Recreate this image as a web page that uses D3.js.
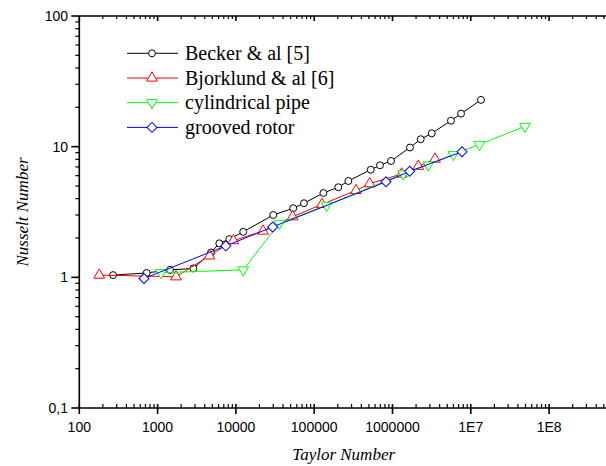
<!DOCTYPE html>
<html>
<head>
<meta charset="utf-8">
<script src="https://cdn.jsdelivr.net/npm/d3@7"></script>
<style>
body { margin: 0; background: #fff; }
.tickText { font-family: "Liberation Sans", Arial, sans-serif; font-size: 14px; fill: #000; }
.axisTitle { font-family: "Liberation Serif", "Times New Roman", serif; font-style: italic; font-size: 17px; fill: #000; }
.legendText { font-family: "Liberation Serif", "Times New Roman", serif; font-size: 20px; fill: #000; }
</style>
</head>
<body>
<div id="chart"></div>
<script>
//------------------------------------------ Data ------------------------------------------

var beckerTa = [270, 725, 1440, 2860, 4810, 6140, 8240, 12400, 30000, 54000, 74000, 131000, 203000,
	273000, 527000, 692000, 957000, 1670000, 2290000, 3170000, 5580000, 7500000, 13500000];
var beckerNu = [1.04, 1.08, 1.14, 1.17, 1.55, 1.82, 1.96, 2.23, 3.0, 3.38, 3.69, 4.42, 4.89,
	5.46, 6.66, 7.2, 7.77, 9.85, 11.4, 12.65, 15.8, 17.9, 22.8];

var bjorklundTa = [180, 1720, 4600, 9300, 22200, 53100, 125800, 342000, 511000, 1310000, 2135000, 3490000];
var bjorklundNu = [1.04, 1.01, 1.46, 1.91, 2.26, 2.91, 3.62, 4.62, 5.21, 6.18, 7.08, 8.04];

var pipeTa = [1105, 12400, 35800, 144000, 1374000, 2865000, 5980000, 12900000, 49200000];
var pipeNu = [1.085, 1.14, 2.59, 3.56, 6.21, 7.24, 8.71, 10.4, 14.3];

var rotorTa = [670, 7430, 29500, 826000, 1658000, 7720000];
var rotorNu = [0.98, 1.74, 2.43, 5.39, 6.48, 9.15];

var seriesNames = ["Becker & al [5]", "Bjorklund & al [6]", "cylindrical pipe", "grooved rotor"];
var seriesColors = ["#000000", "#ff0000", "#00ff00", "#0000ff"];

var xTickValues = [1e2, 1e3, 1e4, 1e5, 1e6, 1e7, 1e8];
var xTickLabels = ["100", "1000", "10000", "100000", "1000000", "1E7", "1E8"];
var yTickValues = [0.1, 1, 10, 100];
var yTickLabels = ["0,1", "1", "10", "100"];

//------------------------------------------ Setup ------------------------------------------

var width = 606, height = 466;
var x0 = 79.3, xDecade = 78.3, xRight = 608;

var svg = d3.select("#chart").append("svg")
	.attr("width", width)
	.attr("height", height);

var x = d3.scaleLog()
	.domain([100, 100 * Math.pow(10, (xRight - x0) / xDecade)])
	.range([x0, xRight]);

var y = d3.scaleLog()
	.domain([0.1, 100])
	.range([408, 16]);

//minor ticks for the log axes
var xMinor = [];
for (var e = 2; e <= 8; e++) {
	for (var m = 2; m <= 9; m++) {
		var v = m * Math.pow(10, e);
		if (v < x.domain()[1]) xMinor.push(v);
	}
}
var yMinor = [];
for (var e = -1; e <= 1; e++) {
	for (var m = 2; m <= 9; m++) yMinor.push(m * Math.pow(10, e));
}

//------------------------------------------ Axes ------------------------------------------

var axisG = svg.append("g").attr("stroke", "#000").attr("stroke-width", 1.6);

//bottom axis line
axisG.append("line")
	.attr("x1", x0).attr("x2", width)
	.attr("y1", y(0.1)).attr("y2", y(0.1));
//top axis line
axisG.append("line")
	.attr("x1", x0).attr("x2", width)
	.attr("y1", y(100)).attr("y2", y(100));
//left axis line
axisG.append("line")
	.attr("x1", x0).attr("x2", x0)
	.attr("y1", y(100)).attr("y2", y(0.1));

//bottom ticks
axisG.selectAll(".xMajor")
	.data(xTickValues)
	.enter().append("line")
	.attr("x1", function(d) { return x(d); })
	.attr("x2", function(d) { return x(d); })
	.attr("y1", y(0.1) - 4)
	.attr("y2", y(0.1) + 6);
axisG.selectAll(".xMinor")
	.data(xMinor)
	.enter().append("line")
	.attr("stroke-width", 1.2)
	.attr("x1", function(d) { return x(d); })
	.attr("x2", function(d) { return x(d); })
	.attr("y1", y(0.1) - 4)
	.attr("y2", y(0.1));
//top ticks
axisG.selectAll(".xTopMajor")
	.data(xTickValues)
	.enter().append("line")
	.attr("x1", function(d) { return x(d); })
	.attr("x2", function(d) { return x(d); })
	.attr("y1", y(100))
	.attr("y2", y(100) + 5);
axisG.selectAll(".xTopMinor")
	.data(xMinor)
	.enter().append("line")
	.attr("stroke-width", 1.2)
	.attr("x1", function(d) { return x(d); })
	.attr("x2", function(d) { return x(d); })
	.attr("y1", y(100))
	.attr("y2", y(100) + 3);
//left ticks
axisG.selectAll(".yMajor")
	.data(yTickValues)
	.enter().append("line")
	.attr("x1", x0 - 8).attr("x2", x0)
	.attr("y1", function(d) { return y(d); })
	.attr("y2", function(d) { return y(d); });
axisG.selectAll(".yMinor")
	.data(yMinor)
	.enter().append("line")
	.attr("stroke-width", 1.2)
	.attr("x1", x0 - 4).attr("x2", x0)
	.attr("y1", function(d) { return y(d); })
	.attr("y2", function(d) { return y(d); });

//tick labels
svg.selectAll(".xLabel")
	.data(xTickValues)
	.enter().append("text")
	.attr("class", "tickText")
	.attr("x", function(d) { return x(d); })
	.attr("y", 431.5)
	.attr("text-anchor", "middle")
	.text(function(d, i) { return xTickLabels[i]; });

svg.selectAll(".yLabel")
	.data(yTickValues)
	.enter().append("text")
	.attr("class", "tickText")
	.attr("x", 68)
	.attr("y", function(d) { return y(d); })
	.attr("dy", "0.36em")
	.attr("text-anchor", "end")
	.text(function(d, i) { return yTickLabels[i]; });

//axis titles, centred on the full axis lengths
svg.append("text")
	.attr("class", "axisTitle")
	.attr("x", (x0 + xRight) / 2)
	.attr("y", 460)
	.attr("text-anchor", "middle")
	.text("Taylor Number");

svg.append("text")
	.attr("class", "axisTitle")
	.attr("transform", "translate(28," + ((y(100) + y(0.1)) / 2) + ") rotate(-90)")
	.attr("text-anchor", "middle")
	.text("Nusselt Number");

//------------------------------------------ Series ------------------------------------------

var symbols = [
	{ type: d3.symbolCircle, size: 38, rotate: 0 },
	{ type: d3.symbolTriangle, size: 50, rotate: 0 },
	{ type: d3.symbolTriangle, size: 50, rotate: 180 },
	{ type: d3.symbolSquare, size: 50, rotate: 45 }
];

var seriesData = [
	beckerTa.map(function(d, i) { return [d, beckerNu[i]]; }),
	bjorklundTa.map(function(d, i) { return [d, bjorklundNu[i]]; }),
	pipeTa.map(function(d, i) { return [d, pipeNu[i]]; }),
	rotorTa.map(function(d, i) { return [d, rotorNu[i]]; })
];

var line = d3.line()
	.x(function(d) { return x(d[0]); })
	.y(function(d) { return y(d[1]); });

seriesData.forEach(function(data, s) {
	var g = svg.append("g");
	var sym = d3.symbol().type(symbols[s].type).size(symbols[s].size);

	g.append("path")
		.attr("d", line(data))
		.attr("fill", "none")
		.attr("stroke", seriesColors[s])
		.attr("stroke-width", 1);

	g.selectAll(".marker")
		.data(data)
		.enter().append("path")
		.attr("transform", function(d) {
			return "translate(" + x(d[0]) + "," + y(d[1]) + ") rotate(" + symbols[s].rotate + ")";
		})
		.attr("d", sym)
		.attr("fill", "#fff")
		.attr("stroke", seriesColors[s])
		.attr("stroke-width", 1);
});

//------------------------------------------ Legend ------------------------------------------

var legend = svg.append("g").attr("transform", "translate(127,53.3)");

seriesNames.forEach(function(name, s) {
	var row = legend.append("g").attr("transform", "translate(0," + (s * 24.7) + ")");
	var sym = d3.symbol().type(symbols[s].type).size(symbols[s].size);
	row.append("line")
		.attr("x1", 0).attr("x2", 51)
		.attr("stroke", seriesColors[s])
		.attr("stroke-width", 1);
	row.append("path")
		.attr("transform", "translate(25,0) rotate(" + symbols[s].rotate + ")")
		.attr("d", sym)
		.attr("fill", "#fff")
		.attr("stroke", seriesColors[s]);
	row.append("text")
		.attr("class", "legendText")
		.attr("x", 58)
		.attr("y", 6.5)
		.text(name);
});
</script>
</body>
</html>
